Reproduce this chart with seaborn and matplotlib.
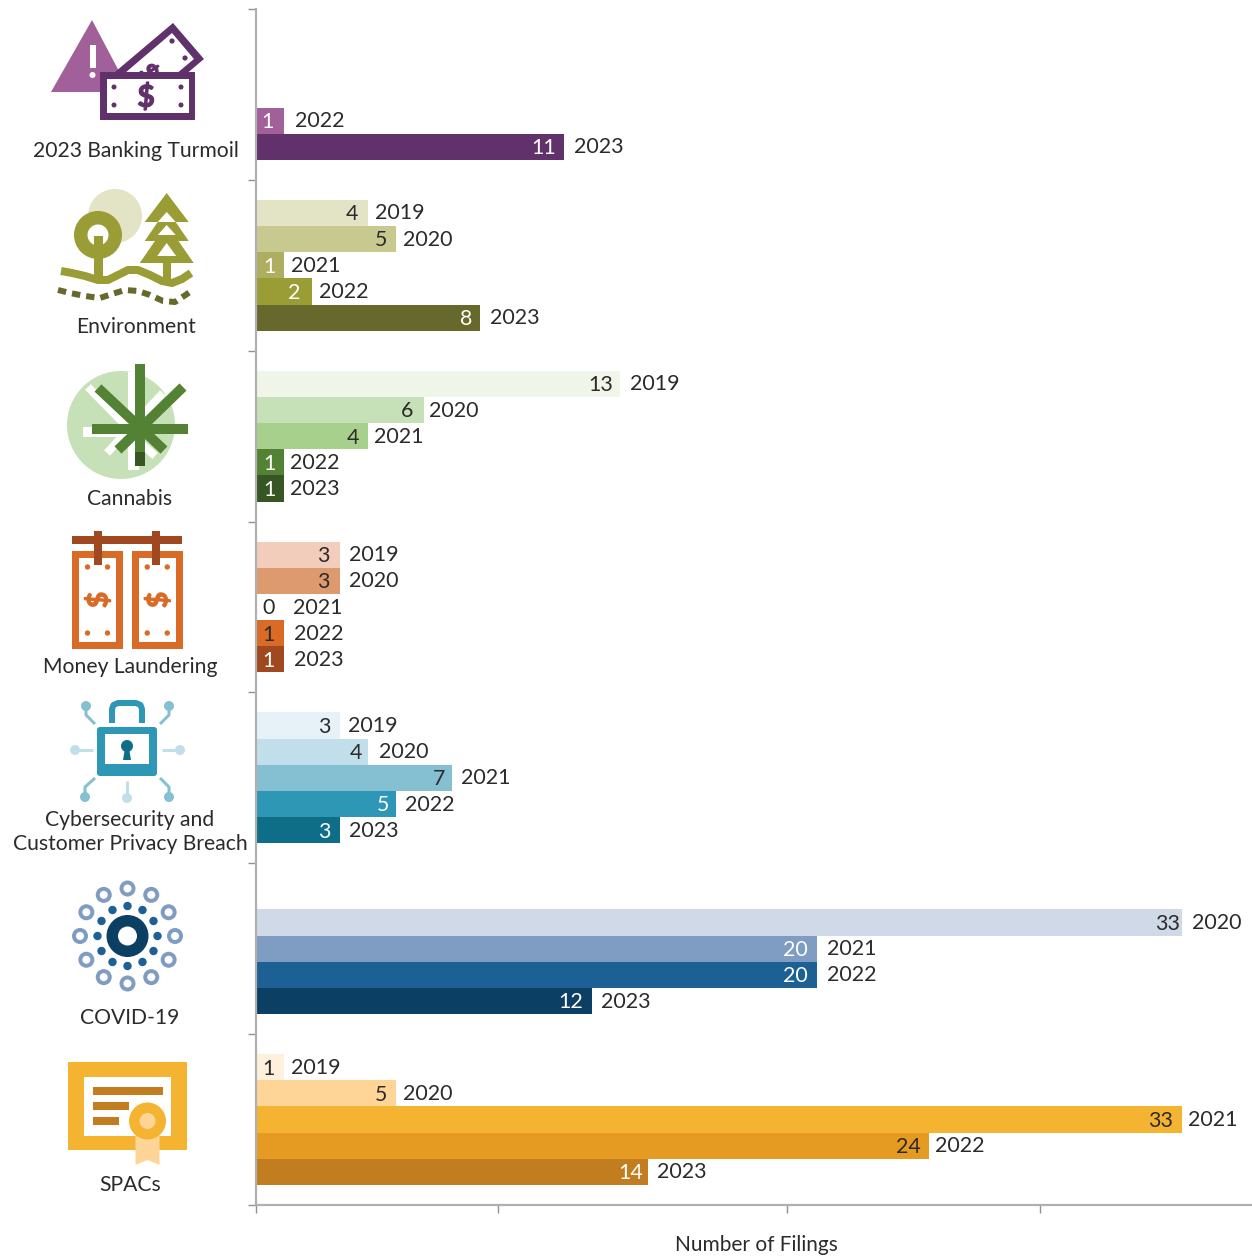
import numpy as np
import pandas as pd
import matplotlib
matplotlib.use("Agg")
import matplotlib.pyplot as plt
import seaborn as sns
from matplotlib.patches import Circle, Polygon, Rectangle, PathPatch, FancyBboxPatch
from matplotlib.textpath import TextPath
from matplotlib.font_manager import FontProperties
from matplotlib.transforms import Affine2D

# ---------- data ----------
categories = ["2023 Banking Turmoil", "Environment", "Cannabis", "Money Laundering",
              "Cybersecurity and\nCustomer Privacy Breach", "COVID-19", "SPACs"]
years = ["2019", "2020", "2021", "2022", "2023"]
banking = [None, None, None, 1, 11]
environment = [4, 5, 1, 2, 8]
cannabis = [13, 6, 4, 1, 1]
laundering = [3, 3, 0, 1, 1]
cyber = [3, 4, 7, 5, 3]
covid = [None, 33, 20, 20, 12]
spacs = [1, 5, 33, 24, 14]
series = [banking, environment, cannabis, laundering, cyber, covid, spacs]

# ---------- styles ----------
shades = [
    ["#FFFFFF", "#FFFFFF", "#FFFFFF", "#A2609A", "#61316B"],
    ["#E3E3C5", "#C8C98F", "#ADAE5F", "#9A9C36", "#66682C"],
    ["#EFF5E9", "#C6E0B7", "#A8D08D", "#548235", "#375623"],
    ["#F2CDBB", "#DD9A6F", "#FFFFFF", "#D96B27", "#A0481F"],
    ["#E6F2F7", "#C1DFEA", "#85C0D2", "#2E97B5", "#0F6E87"],
    ["#FFFFFF", "#CFD9E7", "#7F9CC3", "#1D6094", "#0B3F63"],
    ["#FEF0DC", "#FED596", "#F4B331", "#E59B22", "#C17D1F"],
]
INK = "#2B2B2B"
value_ink = [
    [INK, INK, INK, "w", "w"],
    [INK, INK, "w", "w", "w"],
    [INK, INK, INK, "w", "w"],
    [INK, INK, INK, INK, "w"],
    [INK, INK, INK, "w", "w"],
    [INK, INK, "w", "w", "w"],
    [INK, INK, INK, INK, "w"],
]
# pixel gaps: value text inside the bar end, year text after the bar end
value_pad = [
    [9, 9, 9, 10, 8], [10, 9, 8, 11, 8], [7, 11, 9, 8, 8], [10, 10, -19, 9, 9],
    [9, 6, 7, 7, 9], [9, 2, 9, 9, 9], [9, 9, 9, 8, 5],
]
year_gap = [
    [9, 9, 9, 11, 10], [7, 7, 7, 7, 10], [10, 5, 6, 6, 6], [9, 9, 38, 10, 10],
    [8, 11, 9, 9, 9], [9, 10, 10, 10, 9], [7, 7, 6, 6, 9],
]
label_xy = [(136, 151), (136, 327), (130, 499), (130, 667), (130, 832), (130, 1018), (130, 1185)]
xtick_px = [256, 498, 787, 1040]

W, H = 1252, 1257
X0, Y0, Y1 = 255.5, 9, 1205
PX_PER_FILING = 28.07

sns.set_theme(style="white")
plt.rcParams["font.family"] = ["Lato", "DejaVu Sans"]
FS_BAR = 15.4
FS_CAT = 15.2

rows = [(c, y, v) for c, vals in zip(categories, series) for y, v in zip(years, vals) if v is not None]
df = pd.DataFrame(rows, columns=["category", "year", "filings"])

fig = plt.figure(figsize=(W / 100, H / 100), dpi=100, facecolor="white")
ax = fig.add_axes([X0 / W, 1 - Y1 / H, (W - X0) / W, (Y1 - Y0) / H])

sns.barplot(data=df, y="category", x="filings", hue="year", order=categories, hue_order=years,
            orient="h", dodge=True, width=131 / 171, gap=0, errorbar=None, legend=False,
            saturation=1, ax=ax)
ax.set_xlim(0, (W - X0) / PX_PER_FILING)
ax.set_ylim(6.5, -0.5)

for j, cont in enumerate(ax.containers):
    for p in cont.patches:
        yc = p.get_y() + p.get_height() / 2
        if not np.isfinite(yc):
            continue
        i = int(round(yc))
        v = series[i][j]
        if v is None:
            p.set_visible(False)
            continue
        p.set_facecolor(shades[i][j])
        p.set_edgecolor("none")
        ax.annotate(str(v), xy=(v, yc), xytext=(-value_pad[i][j] * 0.72, -1.0), textcoords="offset points",
                    ha="right", va="center", fontsize=FS_BAR, color=value_ink[i][j])
        ax.annotate(years[j], xy=(v, yc), xytext=(year_gap[i][j] * 0.72, -0.4), textcoords="offset points",
                    ha="left", va="center", fontsize=FS_BAR, color=INK)

GREY = "#B0B0B0"
for s in ["top", "right"]:
    ax.spines[s].set_visible(False)
for s in ["left", "bottom"]:
    ax.spines[s].set_color(GREY)
    ax.spines[s].set_linewidth(1.6)
ax.set_yticks(np.arange(-0.5, 7, 1))
ax.set_yticklabels([])
ax.set_xticks([(px - X0) / PX_PER_FILING for px in xtick_px])
ax.set_xticklabels([])
ax.tick_params(axis="both", which="major", length=5.5, width=1, color="#909090", left=True, bottom=True)
ax.set_ylabel("")
ax.set_xlabel("Number of Filings", fontsize=15, color=INK, labelpad=12)
ax.xaxis.set_label_coords((756 - X0) / (W - X0), -(1245 - Y1) / (Y1 - Y0), transform=ax.transAxes)
ax.xaxis.label.set_verticalalignment("center")

# ---------- overlay in pixel coordinates for category labels and icons ----------
ov = fig.add_axes([0, 0, 1, 1], facecolor="none")
ov.set_xlim(0, W)
ov.set_ylim(H, 0)
ov.axis("off")

for name, (x, y) in zip(categories, label_xy):
    ov.text(x, y, name, ha="center", va="center", fontsize=FS_CAT, color=INK, linespacing=1.25)

LW = 0.72  # px to pt


def rect(x0, y0, x1, y1, c, z=2):
    ov.add_patch(Rectangle((x0, y0), x1 - x0, y1 - y0, fc=c, ec="none", zorder=z))


def disc(x, y, r, c, z=2):
    ov.add_patch(Circle((x, y), r, fc=c, ec="none", zorder=z))


def poly(pts, c, z=2):
    ov.add_patch(Polygon(pts, closed=True, fc=c, ec="none", zorder=z))


def stroke(pts, c, w, z=2, **kw):
    xs, ys = zip(*pts)
    kw.setdefault("solid_capstyle", "butt")
    kw.setdefault("solid_joinstyle", "round")
    ov.plot(xs, ys, color=c, lw=w * LW, zorder=z, **kw)


def dots(pts, r, c, z=2):
    for x, y in pts:
        disc(x, y, r, c, z)


def glyph(ch, x, y, size, c, rot=0, z=3):
    tp = TextPath((0, 0), ch, size=size, prop=FontProperties(family="Lato", weight="bold"))
    bb = tp.get_extents()
    tr = (Affine2D().translate(-(bb.x0 + bb.x1) / 2, -(bb.y0 + bb.y1) / 2)
          .rotate_deg(rot).scale(1, -1).translate(x, y))
    ov.add_patch(PathPatch(tr.transform_path(tp), fc=c, ec=c, lw=0.9, zorder=z))


# Banking turmoil
PL, PD = "#A2609A", "#61316B"
poly([(92, 20), (51, 92), (130, 92)], PL, 1)
rect(89.5, 45, 95.5, 68, "w", 1.5)
disc(92.5, 75, 3, "w", 1.5)
poly([(173, 23), (204, 59), (146, 108), (115, 72)], PD, 2)
poly([(172, 33), (194, 59), (146, 99), (125, 73)], "w", 2.1)
dots([(172, 41), (185, 58)], 2.6, PD, 2.2)
glyph("$", 149, 72, 24, PD, rot=-50, z=2.3)
rect(100, 72, 195, 120, PD, 3)
rect(107, 79, 189, 113, "w", 3.1)
dots([(114, 87), (181, 87), (114, 105), (181, 105)], 2.5, PD, 3.2)
glyph("$", 146, 96, 30, PD, z=3.3)

# Environment
EL, EM, ED = "#E3E3C5", "#9A9C36", "#66682C"
disc(115, 216, 27, EL, 1)
disc(98, 235, 24, EM, 2)
disc(98, 235, 10.5, "w", 2.1)
rect(94, 236, 103, 282, EM, 2.2)
rect(162.5, 262, 171, 282, EM, 2.2)
for apex, base, half in [(193, 222, 22), (209, 241, 22), (224, 263, 27)]:
    poly([(166.7, apex), (166.7 - half, base), (166.7 + half, base)], EM, 2)
for apex, base, half in [(212, 222, 9), (225, 235, 9), (243, 256, 9.5)]:
    poly([(166.7, apex), (166.7 - half, base), (166.7 + half, base)], "w", 2.1)
stroke([(61, 271), (72, 273), (85, 276), (98, 280), (108, 280), (118, 275), (128, 270), (138, 270), (150, 275),
        (162, 281), (172, 283), (182, 279), (191, 273)], EM, 8, 2.3)
stroke([(58, 290), (70, 293), (85, 296), (100, 298), (112, 294), (125, 290), (138, 291), (150, 295), (163, 301),
        (175, 302), (190, 292)], ED, 6, 2.3, linestyle=(0, (1.4, 1.0)))

# Cannabis
CL, CM = "#C6E0B7", "#548235"
disc(121, 425, 54, CL, 1)
stroke([(88, 387), (133, 433)], "w", 8, 1.5)
stroke([(163, 393), (107, 453)], "w", 8, 1.5)
stroke([(121, 425), (155, 456)], "w", 8, 1.5)
rect(83, 427, 140, 437, "w", 1.5)
rect(128, 372, 139, 470, "w", 1.5)
rect(135, 364, 145, 466, CM, 2)
rect(92, 424, 188, 434, CM, 2)
stroke([(98, 388), (164, 450)], CM, 10, 2)
stroke([(183, 387), (118, 450)], CM, 10, 2)
rect(135, 452, 145, 466, "#375623", 2.1)

# Money laundering
MO, MD = "#D96B27", "#A0481F"
for x0, x1 in [(72, 123), (131.5, 183)]:
    rect(x0, 551, x1, 649, MO, 1)
    rect(x0 + 7, 558, x1 - 7, 642, "w", 1.1)
    cx = (x0 + x1) / 2
    dots([(cx - 10, 567), (cx + 10, 567), (cx - 10, 633), (cx + 10, 633)], 2.7, MO, 1.2)
    glyph("$", cx, 600, 28, MO, rot=90, z=1.3)
rect(72, 536, 182, 544, MD, 2)
rect(94, 531, 102, 565, MD, 2)
rect(152, 531, 160, 565, MD, 2)

# Cybersecurity
BB, BL, BM, BD = "#2E97B5", "#C1DFEA", "#85C0D2", "#0F6E87"
stroke([(112, 723), (112, 709), (113.5, 705), (118, 703), (136, 703), (140.5, 705), (142, 709), (142, 723)], BB, 6, 1)
ov.add_patch(FancyBboxPatch((99, 729), 56, 45, boxstyle="round,pad=2,rounding_size=3", fc=BB, ec="none", zorder=2))
rect(105, 734, 149, 764, "w", 2.1)
disc(127, 746, 6, BD, 2.2)
poly([(125, 748), (129, 748), (131, 760), (123, 760)], BD, 2.2)
dots([(75, 750), (180, 750), (127, 798)], 5, BL)
stroke([(75, 750), (93, 750)], BL, 3)
stroke([(162, 750), (180, 750)], BL, 3)
stroke([(127, 781), (127, 798)], BL, 3)
dots([(86, 706), (169, 706), (85, 797), (169, 797)], 5, BM)
stroke([(86, 706), (86, 715), (95, 724)], BM, 3)
stroke([(169, 706), (169, 715), (160, 724)], BM, 3)
stroke([(85, 797), (85, 787), (95, 778)], BM, 3)
stroke([(169, 797), (169, 787), (160, 778)], BM, 3)

# COVID-19
CX, CY = 127.5, 936
for a in np.deg2rad(np.arange(0, 360, 30)):
    disc(CX + 47.5 * np.cos(a), CY + 47.5 * np.sin(a), 8, "#7F9CC3", 1)
    disc(CX + 47.5 * np.cos(a), CY + 47.5 * np.sin(a), 4, "w", 1.1)
    disc(CX + 30 * np.cos(a), CY + 30 * np.sin(a), 4.2, "#1D6094", 1)
disc(CX, CY, 21, "#0B3F63", 2)
disc(CX, CY, 9.5, "w", 2.1)

# SPACs
SO, SL, SD = "#F4B331", "#FED596", "#C17D1F"
rect(68, 1062, 187, 1150, SO, 1)
rect(84, 1077, 171, 1136, "w", 1.1)
rect(93, 1087, 163, 1095, SD, 1.2)
rect(93, 1102, 129, 1110, SD, 1.2)
rect(93, 1117, 119, 1125, SD, 1.2)
poly([(135.5, 1125), (159.5, 1125), (159.5, 1165), (147.5, 1160), (135.5, 1165)], SL, 1.3)
disc(147.5, 1121, 18.5, SO, 1.4)
disc(147.5, 1121, 8, SL, 1.5)

fig.savefig("out.png", dpi=100)
